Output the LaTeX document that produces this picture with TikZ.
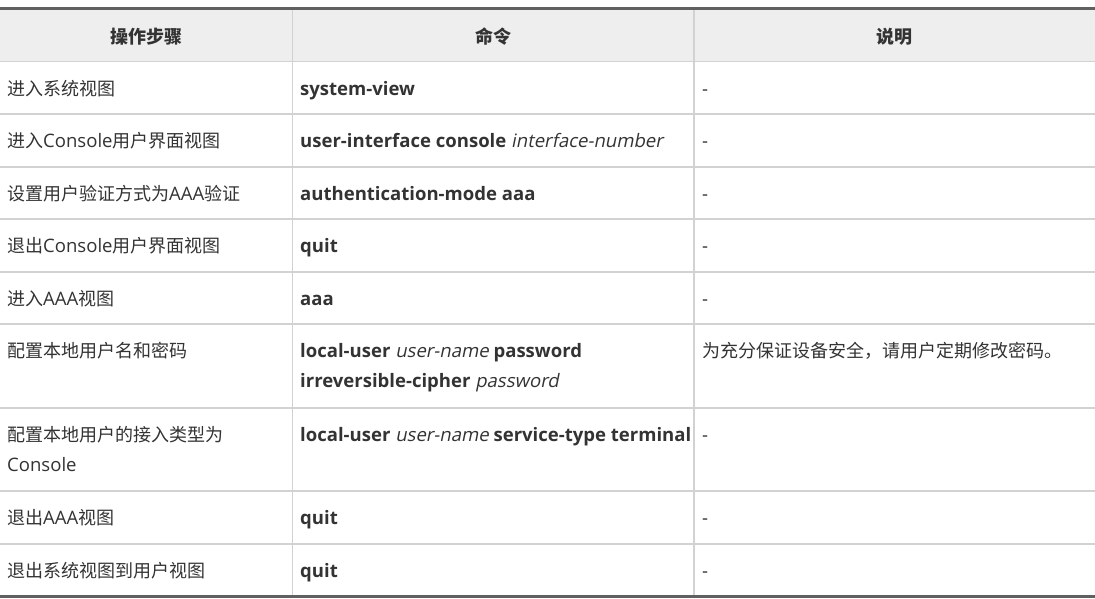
\documentclass[tikz,border=0pt]{standalone}
\usepackage{fontspec}
\setmainfont{Open Sans}[Scale=1.03,ItalicFont={Open Sans},ItalicFeatures={FakeSlant=0.2}]
\newfontfamily\cjk{Noto Sans CJK SC}
\definecolor{txt}{HTML}{333333}
\definecolor{hdrbg}{HTML}{EEEEEE}
\definecolor{grid}{HTML}{D2D2D2}
\definecolor{thick}{HTML}{606060}
\begin{document}
\begin{tikzpicture}[x=1pt,y=-1pt,
  cell/.style={anchor=base west,inner sep=0pt,text=txt,font=\fontsize{18}{30}\selectfont},
  head/.style={anchor=base,inner sep=0pt,text=txt,font=\fontsize{18}{30}\selectfont\bfseries\cjk},
  gridline/.style={draw=grid,line width=1.3pt},
  thickline/.style={draw=thick,line width=3pt}]
\useasboundingbox (0,0) rectangle (1095,598);
\fill[white] (0,0) rectangle (1095,598);
% header background
\fill[hdrbg] (0,9.5) rectangle (1095,61.5);
% horizontal grid lines
\foreach \yy in {61.5,114,167,219,272,324,408,491,544}
  \draw[gridline] (0,\yy) -- (1095,\yy);
% vertical grid lines
\foreach \xx in {292.5,694}
  \draw[gridline] (\xx,8) -- (\xx,597);
% thick top and bottom rules
\draw[thickline] (0,8.3) -- (1095,8.3);
\draw[thickline] (0,596.5) -- (1095,596.5);
% header
\node[head] (h1) at (146.25,43) {操作步骤};
\node[head] (h2) at (493.25,43) {命令};
\node[head] (h3) at (894.5,43) {说明};
% column 1
\node[cell] (a1) at (7,95) {\cjk 进入系统视图};
\node[cell] (a2) at (7,147.5) {{\cjk 进入}Console{\cjk 用户界面视图}};
\node[cell] (a3) at (7,200.5) {{\cjk 设置用户验证方式为}AAA{\cjk 验证}};
\node[cell] (a4) at (7,252.5) {{\cjk 退出}Console{\cjk 用户界面视图}};
\node[cell] (a5) at (7,305.5) {{\cjk 进入}AAA{\cjk 视图}};
\node[cell] (a6) at (7,357.5) {\cjk 配置本地用户名和密码};
\node[cell] (a7) at (7,441.5) {\cjk 配置本地用户的接入类型为};
\node[cell] (a7b) at (7,471.5) {Console};
\node[cell] (a8) at (7,524.5) {{\cjk 退出}AAA{\cjk 视图}};
\node[cell] (a9) at (7,577.5) {\cjk 退出系统视图到用户视图};
% column 2
\node[cell] (b1) at (300,95) {\textbf{system-view}};
\node[cell] (b2) at (300,147.5) {\textbf{user-interface console} \textit{interface-number}};
\node[cell] (b3) at (300,200.5) {\textbf{authentication-mode aaa}};
\node[cell] (b4) at (300,252.5) {\textbf{quit}};
\node[cell] (b5) at (300,305.5) {\textbf{aaa}};
\node[cell] (b6) at (300,357.5) {\textbf{local-user} \textit{user-name} \textbf{password}};
\node[cell] (b6b) at (300,387.5) {\textbf{irreversible-cipher} \textit{password}};
\node[cell] (b7) at (300,441.5) {\textbf{local-user} \textit{user-name} \textbf{service-type terminal}};
\node[cell] (b8) at (300,524.5) {\textbf{quit}};
\node[cell] (b9) at (300,577.5) {\textbf{quit}};
% column 3
\node[cell] (c1) at (702,95) {-};
\node[cell] (c2) at (702,147.5) {-};
\node[cell] (c3) at (702,200.5) {-};
\node[cell] (c4) at (702,252.5) {-};
\node[cell] (c5) at (702,305.5) {-};
\node[cell] (c6) at (702,357.5) {\cjk 为充分保证设备安全，请用户定期修改密码。};
\node[cell] (c7) at (702,441.5) {-};
\node[cell] (c8) at (702,524.5) {-};
\node[cell] (c9) at (702,577.5) {-};
\end{tikzpicture}
\end{document}
